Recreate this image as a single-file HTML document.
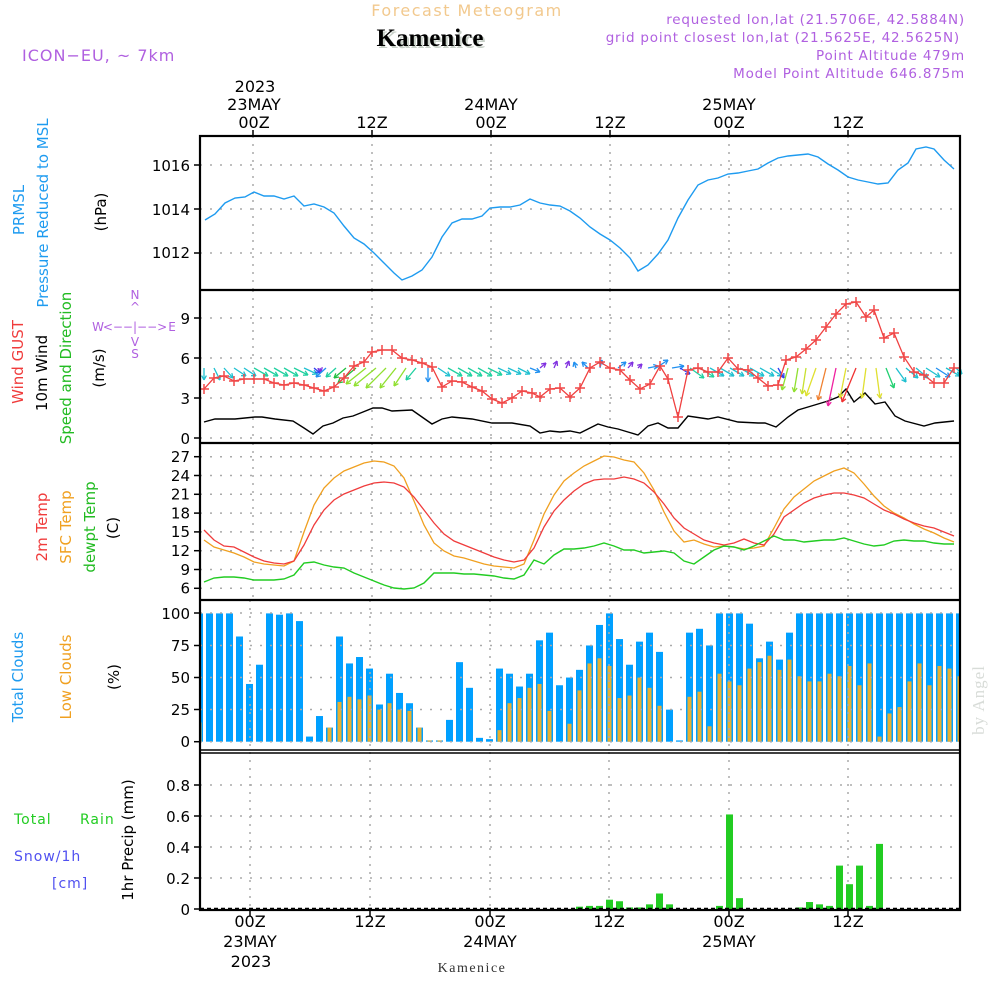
<!DOCTYPE html>
<html><head><meta charset="utf-8">
<style>
html,body{margin:0;padding:0;background:#fff;width:1000px;height:1000px;overflow:hidden}
svg text{font-family:"DejaVu Sans","Liberation Sans",sans-serif}
</style></head><body>
<svg id="s" width="1000" height="1000" xmlns="http://www.w3.org/2000/svg">
<rect width="1000" height="1000" fill="#fff"/>
<text x="467" y="16" font-size="16" fill="#f2c98e" text-anchor="middle" letter-spacing="1.5">Forecast Meteogram</text>
<text x="432" y="48" font-size="25" font-weight="bold" fill="#c8d0c8" text-anchor="middle" style="font-family:'Liberation Serif',serif">Kamenice</text>
<text x="430" y="46" font-size="25" font-weight="bold" fill="#000" text-anchor="middle" style="font-family:'Liberation Serif',serif">Kamenice</text>
<g fill="#b060e0" font-size="13.5" text-anchor="end" letter-spacing="0.8">
<text x="965" y="24">requested lon,lat (21.5706E, 42.5884N)</text>
<text x="960" y="42">grid point closest lon,lat (21.5625E, 42.5625N)</text>
<text x="965" y="60">Point Altitude 479m</text>
<text x="965" y="78">Model Point Altitude 646.875m</text>
</g>
<text x="22" y="61" font-size="16" fill="#b060e0" letter-spacing="1">ICON−EU, ~ 7km</text>
<g font-size="16" fill="#000" text-anchor="middle">
<text x="255" y="92">2023</text>
<text x="254" y="110">23MAY</text><text x="254" y="128">00Z</text>
<text x="372" y="128">12Z</text>
<text x="491" y="110">24MAY</text><text x="491" y="128">00Z</text>
<text x="610" y="128">12Z</text>
<text x="729" y="110">25MAY</text><text x="729" y="128">00Z</text>
<text x="848" y="128">12Z</text>
</g>
<g font-size="16" fill="#000" text-anchor="middle">
<text x="250" y="927">00Z</text><text x="250" y="947">23MAY</text><text x="251" y="967">2023</text>
<text x="370" y="927">12Z</text>
<text x="490" y="927">00Z</text><text x="490" y="947">24MAY</text>
<text x="609" y="927">12Z</text>
<text x="729" y="927">00Z</text><text x="729" y="947">25MAY</text>
<text x="848" y="927">12Z</text>
</g>
<text x="472" y="972" font-size="14" fill="#333" text-anchor="middle" style="font-family:'Liberation Serif',serif" letter-spacing="1.5">Kamenice</text>
<g font-size="15">
<text transform="translate(24,210) rotate(-90)" text-anchor="middle" fill="#1e9bf0">PRMSL</text>
<text transform="translate(48,213) rotate(-90)" text-anchor="middle" fill="#1e9bf0">Pressure Reduced to MSL</text>
<text transform="translate(106,212) rotate(-90)" text-anchor="middle" fill="#000">(hPa)</text>
<text transform="translate(23,362) rotate(-90)" text-anchor="middle" fill="#f03c3c">Wind GUST</text>
<text transform="translate(47,373) rotate(-90)" text-anchor="middle" fill="#000">10m Wind</text>
<text transform="translate(71,368) rotate(-90)" text-anchor="middle" fill="#22bb22">Speed and Direction</text>
<text transform="translate(104,368) rotate(-90)" text-anchor="middle" fill="#000">(m/s)</text>
<text transform="translate(47,527) rotate(-90)" text-anchor="middle" fill="#f03c3c">2m Temp</text>
<text transform="translate(71,527) rotate(-90)" text-anchor="middle" fill="#f0a020">SFC Temp</text>
<text transform="translate(95,527) rotate(-90)" text-anchor="middle" fill="#22bb22">dewpt Temp</text>
<text transform="translate(118,528) rotate(-90)" text-anchor="middle" fill="#000">(C)</text>
<text transform="translate(23,677) rotate(-90)" text-anchor="middle" fill="#1e9bf0">Total Clouds</text>
<text transform="translate(71,677) rotate(-90)" text-anchor="middle" fill="#f0a020">Low Clouds</text>
<text transform="translate(119,677) rotate(-90)" text-anchor="middle" fill="#000">(%)</text>
<text transform="translate(133,840) rotate(-90)" text-anchor="middle" fill="#000">1hr Precip (mm)</text>
</g>
<g font-size="14" letter-spacing="1">
<text x="14" y="824" fill="#22cc22">Total</text>
<text x="80" y="824" fill="#22cc22">Rain</text>
<text x="14" y="861" fill="#5050f0">Snow/1h</text>
<text x="52" y="888" fill="#5050f0">[cm]</text>
</g>
<g fill="#b060e0" font-size="12" text-anchor="middle">
<text x="135" y="299">N</text><text x="135" y="311">^</text>
<text x="98" y="331">W</text><text x="135" y="331">&lt;−−|−−&gt;</text><text x="172" y="331">E</text>
<text x="135" y="346">V</text><text x="135" y="358">S</text>
</g>
<text transform="translate(984,700) rotate(-90)" font-size="17" fill="#d8dcd8" text-anchor="middle" style="font-family:'Liberation Serif',serif" letter-spacing="1">by Angel</text>
<g id="plot"></g>
</svg>
<script>
var NS="http://www.w3.org/2000/svg",P=document.getElementById("plot");
function el(t,a){var e=document.createElementNS(NS,t);for(var k in a)e.setAttribute(k,a[k]);P.appendChild(e);return e;}
function txt(x,y,s,anchor){var e=el("text",{x:x,y:y,"font-size":15,"text-anchor":anchor||"end",fill:"#000"});e.textContent=s;}
var L=200,R=960;
var vx=[253,372,491,610,729,848];
function hgrid(y){el("line",{x1:L,x2:R,y1:y,y2:y,stroke:"#aaa","stroke-width":1.5,"stroke-dasharray":"2,8"});}
function vgrid(y1,y2,xs){xs.forEach(function(x){el("line",{x1:x,x2:x,y1:y1,y2:y2,stroke:"#aaa","stroke-width":1.5,"stroke-dasharray":"2,6"});});}
var p1=[[205,220],[215,214],[225,203],[235,198],[245,197],[254,192],[264,196],[274,196],[284,199],[294,196],[304,206],[314,204],[324,207],[334,213],[344,226],[354,238],[364,244],[374,253],[384,263],[394,273],[402,280],[412,276],[422,270],[432,257],[442,237],[452,223],[462,219],[472,219],[482,216],[490,208],[500,207],[510,207],[520,205],[530,199],[540,203],[550,205],[560,206],[570,211],[580,218],[590,227],[600,234],[610,240],[620,248],[630,258],[638,271],[648,265],[658,254],[668,240],[678,218],[688,200],[698,185],[708,180],[718,178],[728,174],[738,173],[748,171],[758,169],[768,163],[778,158],[788,156],[798,155],[808,154],[818,157],[828,164],[838,170],[848,177],[858,180],[868,182],[878,184],[888,183],[898,170],[908,163],[916,149],[926,147],[934,149],[944,160],[954,169]];
[165,209,253].forEach(hgrid);vgrid(136,290,vx);
txt(190,171,"1016");txt(190,215,"1014");txt(190,258,"1012");
function line(pts,c,w){el("polyline",{points:pts.map(function(p){return p.join(",")}).join(" "),fill:"none",stroke:c,"stroke-width":w||1.3});}
line(p1,"#1e9bf0",1.4);
[318,358,398,438].forEach(hgrid);vgrid(290,443,vx);
txt(190,324,"9");txt(190,364,"6");txt(190,404,"3");txt(190,444,"0");
var blk=[[204,422],[215,419],[235,419],[255,417],[262,417],[275,419],[293,421],[304,428],[313,434],[323,426],[333,423],[343,418],[353,416],[363,412],[373,408],[382,408],[392,411],[412,410],[432,424],[442,419],[452,417],[472,419],[492,423],[512,423],[530,426],[540,433],[550,431],[560,432],[570,431],[580,433],[598,424],[608,427],[618,429],[628,432],[638,435],[648,426],[658,423],[668,428],[678,428],[688,416],[708,419],[718,417],[738,422],[758,423],[765,423],[776,427],[788,417],[798,410],[808,407],[818,404],[828,401],[838,397],[846,389],[854,402],[865,393],[875,404],[885,402],[895,416],[905,421],[924,426],[935,423],[954,421]];
line(blk,"#000",1.4);
var C="#20c0d0",T="#20d0a0",G="#20c040",Li="#90e030",B="#2090f0",BB="#3040f0",PU="#8030e0",Y="#e0e030";
var ar=[[204,0,12,C],[214,6,12,C],[224,9,10,C],[234,12,8,C],[244,12,8,C],[254,14,8,T],[264,14,8,T],[274,14,8,T],[284,14,8,T],[294,14,7,T],[304,13,6,C],[314,6,5,BB],[320,1,4,PU],[326,-10,9,B],[336,-10,9,T],[346,-12,10,G],[356,-18,15,G],[366,-20,16,Li],[376,-22,18,Li],[386,-20,20,Li],[396,-16,20,Li],[406,-12,18,Li],[416,-10,12,T],[428,0,14,B],[438,12,8,C],[448,14,8,T],[458,14,8,T],[468,14,8,T],[478,14,8,T],[488,14,7,T],[498,13,6,C],[508,13,6,C],[518,12,6,C],[530,10,4,B],[540,6,-5,PU],[554,3,-7,PU],[566,3,-7,PU],[576,-2,-6,B],[588,-6,-6,B],[600,2,-8,B],[618,8,-6,B],[628,5,-6,PU],[638,4,-4,PU],[648,10,-2,B],[656,12,-8,B],[672,12,-2,B],[680,10,6,BB],[690,14,10,T],[700,14,9,T],[710,14,8,C],[720,14,8,C],[730,14,8,C],[740,14,8,C],[750,14,8,C],[760,14,8,C],[770,12,8,C],[778,6,10,BB],[788,-6,22,Li],[798,-4,24,Li],[806,-4,26,"#c8e030"],[816,-10,28,Y],[826,-8,32,"#f08030"],[836,-8,38,"#f020a0"],[846,-6,30,Y],[856,-14,34,"#f03030"],[866,-4,30,Y],[876,4,30,Y],[886,8,20,"#20d070"],[896,10,14,C],[906,12,10,C],[916,12,10,C],[926,14,9,C],[936,14,9,B],[946,14,8,C],[956,6,6,C]];
ar.forEach(function(a){var x=a[0],y=368,x2=x+a[1],y2=y+a[2];
 el("line",{x1:x,y1:y,x2:x2,y2:y2,stroke:a[3],"stroke-width":1.3});
 var ang=Math.atan2(a[2],a[1]),h=5;
 [0.5,-0.5].forEach(function(d){el("line",{x1:x2,y1:y2,x2:x2-h*Math.cos(ang+d),y2:y2-h*Math.sin(ang+d),stroke:a[3],"stroke-width":1.3});});
});
var gust=[[204,389],[214,378],[224,376],[234,381],[244,379],[254,379],[264,379],[274,383],[284,385],[294,383],[304,385],[314,388],[324,391],[334,387],[344,378],[354,366],[364,362],[372,352],[382,350],[392,350],[402,358],[412,360],[422,363],[432,367],[442,387],[452,381],[462,382],[472,387],[482,391],[492,399],[502,403],[512,398],[522,391],[532,393],[540,397],[550,389],[560,388],[570,397],[580,388],[590,368],[600,362],[610,368],[620,370],[630,380],[640,389],[650,384],[660,366],[668,379],[678,417],[688,370],[698,368],[708,372],[718,372],[728,358],[738,369],[748,370],[758,378],[768,386],[778,385],[786,360],[796,357],[806,349],[816,340],[826,327],[836,314],[846,304],[856,302],[866,317],[874,310],[884,338],[894,333],[904,357],[914,372],[924,375],[934,383],[944,383],[954,368]];
line(gust,"#f04040",1.3);
gust.forEach(function(p){el("path",{d:"M"+(p[0]-5)+","+p[1]+"h10M"+p[0]+","+(p[1]-5)+"v10",stroke:"#f04848","stroke-width":1.5});});
[456.7,475.5,494.3,513.1,531.9,550.7,569.5,588.3].forEach(hgrid);vgrid(443,600,vx);
["27","24","21","18","15","12","9","6"].forEach(function(s,i){txt(190,462+i*18.8,s);});
var o="204,540 214,547 224,550 234,553 244,557 254,562 264,564 274,565 284,566 294,561 304,532 314,505 324,488 334,478 344,471 354,467 364,463 374,461 384,462 394,466 404,478 414,501 424,525 434,543 444,551 454,556 464,558 474,561 484,564 494,566 504,567 514,568 524,564 534,540 544,514 554,495 564,481 574,473 584,466 594,461 604,456 614,457 624,460 634,462 644,473 654,490 664,512 674,531 684,542 694,540 704,544 714,547 724,546 734,547 744,549 754,548 764,546 774,528 784,509 794,497 804,489 814,481 824,476 834,471 844,468 854,473 864,484 874,496 884,506 894,513 904,518 914,524 924,529 934,533 944,538 954,542";
var r="204,530 214,540 224,546 234,547 244,552 254,557 264,561 274,563 284,564 294,561 304,545 314,525 324,510 334,500 344,494 354,490 364,486 374,483 384,482 394,483 404,487 414,497 424,510 434,523 444,534 454,541 464,545 474,549 484,553 494,557 504,560 514,562 524,560 534,548 544,527 554,511 564,500 574,491 584,484 594,480 604,479 614,479 624,477 634,479 644,483 654,492 664,504 674,518 684,528 694,534 704,540 714,543 724,545 734,543 744,539 754,543 764,545 774,534 784,517 794,510 804,503 814,498 824,495 834,493 844,493 854,495 864,498 874,504 884,510 894,514 904,519 914,523 924,526 934,528 944,532 954,536";
var g="204,582 214,578 224,577 234,577 244,578 254,580 264,580 274,580 284,579 294,575 304,563 314,562 324,565 334,567 344,568 354,573 364,577 374,581 384,585 394,588 404,589 414,588 424,583 434,573 444,573 454,573 464,574 474,574 484,575 494,576 504,578 514,579 524,575 534,560 544,564 554,555 564,549 574,549 584,548 594,546 604,543 614,546 624,550 634,550 644,553 654,552 664,551 674,553 684,561 694,564 704,557 714,550 724,546 734,547 744,550 754,546 764,541 774,536 784,540 794,540 804,542 814,541 824,540 834,540 844,538 854,541 864,544 874,546 884,545 894,541 904,540 914,541 924,541 934,543 944,544 954,544";
el("polyline",{points:o,fill:"none",stroke:"#f0a020","stroke-width":1.3});
el("polyline",{points:r,fill:"none",stroke:"#f03c3c","stroke-width":1.3});
el("polyline",{points:g,fill:"none",stroke:"#22cc22","stroke-width":1.4});
var cy=function(v){return 741.7-v*1.283;};
var tc=[100,100,100,100,82,45,60,100,99,100,94,4,20,11,82,61,66,57,29,53,38,30,11,1,1,17,62,42,3,2,57,53,43,53,79,85,44,50,56,75,91,100,80,60,78,85,70,25,1,85,88,75,100,100,100,92,65,78,64,85,100,100,100,100,100,100,100,100,100,100,100,100,100,100,100,100,100];
var lc=[15,0,0,0,0,0,0,0,0,0,0,0,0,11,31,35,33,36,25,30,25,24,11,1,1,0,0,0,0,0,9,30,34,42,45,24,0,14,40,61,65,59,34,36,50,42,28,0,0,35,39,12,53,47,44,57,62,67,56,64,51,47,47,53,51,59,44,61,4,22,27,47,61,44,59,57,51];
for(var i=0;i<tc.length;i++){var x=196+10*i,x1=Math.max(x,L),w=Math.min(x+7,R)-x1;if(w<=0)continue;
 if(tc[i]>0)el("rect",{x:x1,y:cy(tc[i]),width:w,height:tc[i]*1.283,fill:"#00a0ff"});
 var lx=Math.max(x+1.5,L),lw=Math.min(x+5.5,R)-lx; if(lc[i]>0&&lw>0)el("rect",{x:lx,y:cy(lc[i]),width:lw,height:lc[i]*1.283,fill:"#e8b030"});}
[613,645.5,677.5,709.5,741.7].forEach(hgrid);vgrid(600,750,[250,370,490,609,729,848]);
txt(190,619,"100");txt(190,651,"75");txt(190,683,"50");txt(190,715,"25");txt(190,747,"0");
var py=function(v){return 909-v*155;};
[785,816,847,878].forEach(hgrid);vgrid(752,910,[250,370,490,609,729,848]);
var pr={576:.015,586:.02,596:.02,606:.06,616:.05,626:.01,636:.01,646:.03,656:.1,666:.03,716:.02,726:.61,736:.07,796:.01,806:.045,816:.03,826:.02,836:.28,846:.16,856:.28,866:.02,876:.42};
for(var k in pr)el("rect",{x:+k,y:py(pr[k]),width:7,height:pr[k]*155,fill:"#22cc22"});
el("line",{x1:L,x2:R,y1:908.5,y2:908.5,stroke:"#000","stroke-width":1.5,"stroke-dasharray":"4,3"});
txt(190,791,"0.8");txt(190,822,"0.6");txt(190,853,"0.4");txt(190,884,"0.2");txt(190,915,"0");
el("rect",{x:L,y:136,width:R-L,height:774,fill:"none",stroke:"#000","stroke-width":2.2});
[290,443,600].forEach(function(y){el("line",{x1:L,x2:R,y1:y,y2:y,stroke:"#000","stroke-width":2.2});});
el("line",{x1:L,x2:R,y1:750,y2:750,stroke:"#000","stroke-width":1.5});
el("line",{x1:L,x2:R,y1:753,y2:753,stroke:"#000","stroke-width":1.5});
vx.forEach(function(x){el("line",{x1:x,x2:x,y1:130,y2:136,stroke:"#000","stroke-width":1.5});});
[250,370,490,609,729,848].forEach(function(x){el("line",{x1:x,x2:x,y1:910,y2:916,stroke:"#000","stroke-width":1.5});});
[165,209,253,318,358,398,438,456.7,475.5,494.3,513.1,531.9,550.7,569.5,588.3,613,645.5,677.5,709.5,741.7,785,816,847,878,909].forEach(function(y){el("line",{x1:194,x2:200,y1:y,y2:y,stroke:"#000","stroke-width":1.5});});
</script>
</body></html>
